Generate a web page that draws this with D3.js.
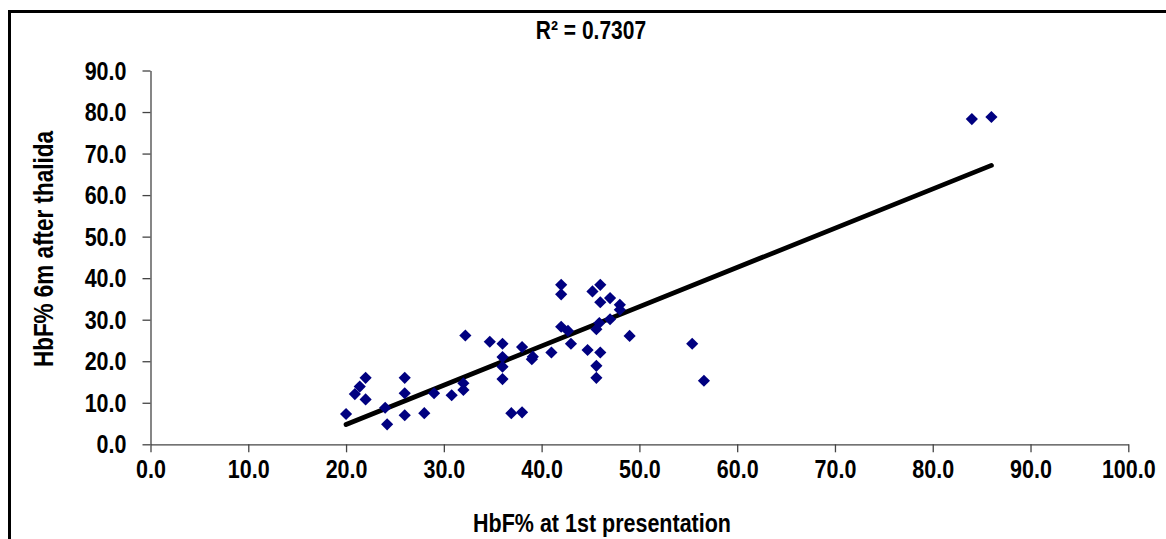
<!DOCTYPE html>
<html>
<head>
<meta charset="utf-8">
<script src="https://cdn.jsdelivr.net/npm/d3@7/dist/d3.min.js"></script>
<style>
  html, body { margin: 0; padding: 0; background: #fff; }
  svg { display: block; }
  text { font-family: "Liberation Sans", Arial, sans-serif; font-weight: bold; fill: #000; }
</style>
</head>
<body>
<svg id="chart" width="1166" height="539"></svg>
<script>
// ---- data ----
const hbfFirst = [20.0, 20.9, 21.4, 22.0, 22.0, 24.0, 24.2, 26.0, 26.0, 26.0, 28.0, 29.0, 30.8, 32.0, 32.0, 32.2,
  34.7, 36.0, 36.0, 36.0, 36.0, 36.9, 38.0, 38.0, 39.1, 39.0, 41.0, 42.0, 42.0, 42.0, 42.7, 43.0, 44.7, 45.2,
  46.0, 46.0, 47.0, 45.6, 45.9, 46.0, 45.6, 45.6, 47.0, 48.0, 48.0, 49.0, 55.4, 56.6, 84.0, 86.0];
const hbf6m = [7.3, 12.1, 13.9, 16.0, 10.8, 8.8, 4.8, 16.0, 12.3, 7.0, 7.5, 12.3, 11.8, 14.7, 13.1, 26.2,
  24.7, 24.2, 21.0, 18.7, 15.7, 7.5, 7.7, 23.4, 21.1, 20.5, 22.1, 38.4, 36.1, 28.3, 27.3, 24.2, 22.7, 36.8,
  38.4, 34.2, 35.2, 27.7, 29.2, 22.1, 18.9, 16.0, 30.1, 33.6, 32.4, 26.1, 24.2, 15.3, 78.3, 78.8];
const xTicks = [0, 10, 20, 30, 40, 50, 60, 70, 80, 90, 100];
const yTicks = [0, 10, 20, 30, 40, 50, 60, 70, 80, 90];
const titleText = "R\u00B2 = 0.7307";
const xTitle = "HbF% at 1st presentation";
const yTitle = "HbF% 6m after thalida";

// ---- layout ----
const svg = d3.select("#chart");
const SY = 1.2;           // vertical stretch of glyphs in reference
const FS = 21.5;

const x = d3.scaleLinear().domain([0, 100]).range([150.5, 1128.3]);
const y = d3.scaleLinear().domain([0, 90]).range([444.3, 70.5]);

// outer frame (top & left visible)
svg.append("path")
  .attr("d", "M9.5,539 L9.5,11.5 L1166,11.5")
  .attr("fill", "none").attr("stroke", "#000").attr("stroke-width", 3);

// axes
const fmt = d3.format(".1f");
const gx = svg.append("g").attr("transform", `translate(0,${y(0)})`)
  .call(d3.axisBottom(x).tickValues(xTicks).tickFormat(fmt).tickSize(8).tickSizeOuter(0));
const gy = svg.append("g").attr("transform", `translate(${x(0)},0)`)
  .call(d3.axisLeft(y).tickValues(yTicks).tickFormat(fmt).tickSize(8).tickSizeOuter(0));
[gx, gy].forEach(g => {
  g.select(".domain").attr("stroke", "#444").attr("stroke-width", 1.3);
  g.selectAll(".tick line").attr("stroke", "#444").attr("stroke-width", 1.3);
  g.attr("font-family", null).attr("font-size", null);
});
gx.selectAll(".tick text")
  .attr("y", null).attr("dy", null)
  .style("font-size", FS + "px")
  .attr("transform", `translate(0,34) scale(1,${SY}) translate(0,-7.7)`)
  .attr("dominant-baseline", "central");
gy.selectAll(".tick text")
  .attr("x", null).attr("dy", null)
  .style("font-size", FS + "px")
  .attr("transform", `translate(-24,0) scale(1,${SY})`)
  .attr("dominant-baseline", "central");

// regression line
const n = hbfFirst.length;
const mx = d3.mean(hbfFirst), my = d3.mean(hbf6m);
let sxy = 0, sxx = 0;
for (let i = 0; i < n; i++) { sxy += (hbfFirst[i] - mx) * (hbf6m[i] - my); sxx += (hbfFirst[i] - mx) ** 2; }
const slope = sxy / sxx, icpt = my - slope * mx;
const [x0, x1] = d3.extent(hbfFirst);
svg.append("line")
  .attr("x1", x(x0)).attr("y1", y(icpt + slope * x0))
  .attr("x2", x(x1)).attr("y2", y(icpt + slope * x1))
  .attr("stroke", "#000").attr("stroke-width", 4.8).attr("stroke-linecap", "round");

// points
const sym = d3.symbol().type(d3.symbolSquare).size(74);
svg.append("g").selectAll("path").data(d3.range(n)).join("path")
  .attr("d", sym)
  .attr("transform", i => `translate(${x(hbfFirst[i])},${y(hbf6m[i])}) rotate(45)`)
  .attr("fill", "#000080");

// title
svg.append("text").attr("text-anchor", "middle").attr("dominant-baseline", "central")
  .style("font-size", "21px")
  .attr("transform", `translate(591,30) scale(1,${SY})`)
  .text(titleText);

// x title
svg.append("text").attr("text-anchor", "middle").attr("dominant-baseline", "central")
  .style("font-size", "21.5px")
  .attr("transform", `translate(602,523) scale(1,${SY})`)
  .text(xTitle);

// y title
svg.append("text").attr("text-anchor", "middle").attr("dominant-baseline", "central")
  .style("font-size", "22.5px")
  .attr("transform", `translate(44,249) rotate(-90) scale(1,${SY})`)
  .text(yTitle);
</script>
</body>
</html>
